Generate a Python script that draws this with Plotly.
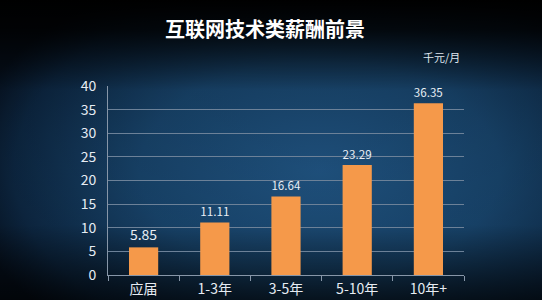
import base64
import plotly.graph_objects as go

categories = ["应届", "1-3年", "3-5年", "5-10年", "10年+"]
salaries = [5.85, 11.11, 16.64, 23.29, 36.35]
y_ticks = [0, 5, 10, 15, 20, 25, 30, 35, 40]

svg = """<svg xmlns='http://www.w3.org/2000/svg' width='542' height='300' viewBox='0 0 542 300'>
<defs>
<radialGradient id='g' cx='320' cy='170' r='360' gradientUnits='userSpaceOnUse' gradientTransform='translate(320 170) scale(1 0.6) translate(-320 -170)'>
<stop offset='0' stop-color='#22598a'/>
<stop offset='0.5' stop-color='#194770'/>
<stop offset='0.85' stop-color='#0d2844'/>
<stop offset='1' stop-color='#06111f'/>
</radialGradient>
<linearGradient id='v' x1='0' y1='0' x2='0' y2='1'>
<stop offset='0' stop-color='#000000' stop-opacity='1'/>
<stop offset='0.1' stop-color='#000000' stop-opacity='0.85'/>
<stop offset='0.3' stop-color='#000000' stop-opacity='0.15'/>
<stop offset='0.75' stop-color='#000000' stop-opacity='0.1'/>
<stop offset='1' stop-color='#000000' stop-opacity='0.7'/>
</linearGradient>
</defs>
<rect width='542' height='300' fill='#06111f'/>
<rect width='542' height='300' fill='url(#g)'/>
<rect width='542' height='300' fill='url(#v)'/>
</svg>"""
bg_src = "data:image/svg+xml;base64," + base64.b64encode(svg.encode()).decode()

L, R, T, B = 108, 78, 86, 25
PW, PH = 542 - L - R, 300 - T - B

fig = go.Figure(
    go.Bar(
        x=categories,
        y=salaries,
        marker=dict(color="#f5994a", line=dict(width=0)),
        width=0.41,
        text=[f"{v:.2f}" for v in salaries],
        textposition="outside",
        textfont=dict(color="#e8eef5", size=14, family="Noto Sans CJK SC"),
        cliponaxis=False,
    )
)

fig.update_layout(
    width=542,
    height=300,
    margin=dict(l=L, r=R, t=T, b=B),
    paper_bgcolor="#02070e",
    plot_bgcolor="rgba(0,0,0,0)",
    showlegend=False,
    font=dict(family="Noto Sans CJK SC", color="#e0e7ef"),
    images=[dict(source=bg_src, xref="paper", yref="paper", x=-L / PW, y=1 + T / PH,
                 sizex=542 / PW, sizey=300 / PH, xanchor="left", yanchor="top",
                 sizing="stretch", layer="below")],
    annotations=[
        dict(text="<b>互联网技术类薪酬前景</b>", xref="paper", yref="paper",
             x=(265 - L) / PW, y=1 + (T - 29) / PH, xanchor="center", yanchor="middle",
             showarrow=False, font=dict(size=20, color="#ffffff", family="Noto Sans CJK SC")),
        dict(text="千元/月", xref="paper", yref="paper",
             x=(462 - L) / PW, y=1 + (T - 57) / PH, xanchor="right", yanchor="middle",
             showarrow=False, font=dict(size=11, color="#dfe6ee", family="Noto Sans CJK SC")),
    ],
)

fig.update_xaxes(
    showline=True, linecolor="#8796a8", linewidth=1,
    ticks="outside", tickson="boundaries", ticklen=5, tickcolor="#8796a8",
    tickfont=dict(size=14, color="#e6ecf3"),
    ticklabelstandoff=1, automargin=False,
    showgrid=False,
)
fig.update_yaxes(
    range=[0, 40], tickvals=y_ticks,
    showline=True, linecolor="#8796a8", linewidth=1,
    showgrid=True, gridcolor="#6c8198", gridwidth=1,
    tickfont=dict(size=14, color="#e6ecf3"),
    ticks="", ticklabelstandoff=8, automargin=False,
    zeroline=False,
)

fig.write_html("out.html")
